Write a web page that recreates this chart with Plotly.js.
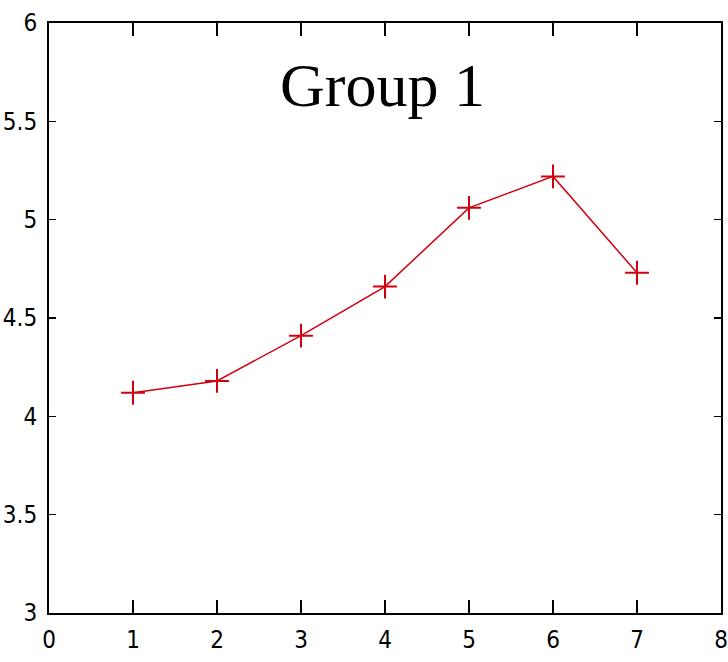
<!DOCTYPE html>
<html>
<head>
<meta charset="utf-8">
<script src="https://cdn.plot.ly/plotly-3.0.1.min.js"></script>
<style>html,body{margin:0;padding:0;background:#fff;}#chart{width:728px;height:662px;}</style>
</head>
<body>
<div id="chart"></div>
<script>
var xValues = [1, 2, 3, 4, 5, 6, 7];
var yValues = [4.12, 4.18, 4.41, 4.66, 5.06, 5.22, 4.73];
var xTicks = [0, 1, 2, 3, 4, 5, 6, 7, 8];
var yTicks = [3, 3.5, 4, 4.5, 5, 5.5, 6];
var titleText = "Group 1";

var trace = {
  x: xValues, y: yValues, type: 'scatter', mode: 'lines+markers',
  line: {color: '#d0000e', width: 1.5},
  marker: {symbol: 'cross-thin-open', size: 17, color: '#d0000e', line: {color: '#d0000e', width: 2}}
};
var tickFont = {family: 'Liberation Sans Narrow, DejaVu Sans Condensed, Liberation Sans, sans-serif', size: 24, color: '#000'};
var layout = {
  width: 728, height: 662,
  margin: {l: 49, r: 7, t: 23, b: 49},
  paper_bgcolor: '#fff', plot_bgcolor: '#fff',
  showlegend: false,
  xaxis: {range: [0, 8], tickvals: xTicks, ticktext: xTicks.map(String), ticks: 'inside', ticklen: 13, tickwidth: 1.5, tickcolor: '#000',
          showline: true, linecolor: '#000', linewidth: 2, mirror: 'allticks', showgrid: false, zeroline: false, tickfont: tickFont,
          ticklabelstandoff: 4, ticklabeloverflow: 'allow'},
  yaxis: {range: [3, 6], tickvals: yTicks, ticktext: yTicks.map(String), ticks: 'inside', ticklen: 7, tickwidth: 1.5, tickcolor: '#000',
          showline: true, linecolor: '#000', linewidth: 2, mirror: 'allticks', showgrid: false, zeroline: false, tickfont: tickFont,
          ticklabelstandoff: 5, ticklabeloverflow: 'allow'},
  annotations: [{text: titleText, xref: 'paper', yref: 'paper', x: 0.497, y: 0.895, xanchor: 'center', yanchor: 'middle', showarrow: false,
                 font: {family: 'Liberation Serif, Times New Roman, serif', size: 62, color: '#000'}}]
};
Plotly.newPlot('chart', [trace], layout, {displayModeBar: false, staticPlot: true});
</script>
</body>
</html>
